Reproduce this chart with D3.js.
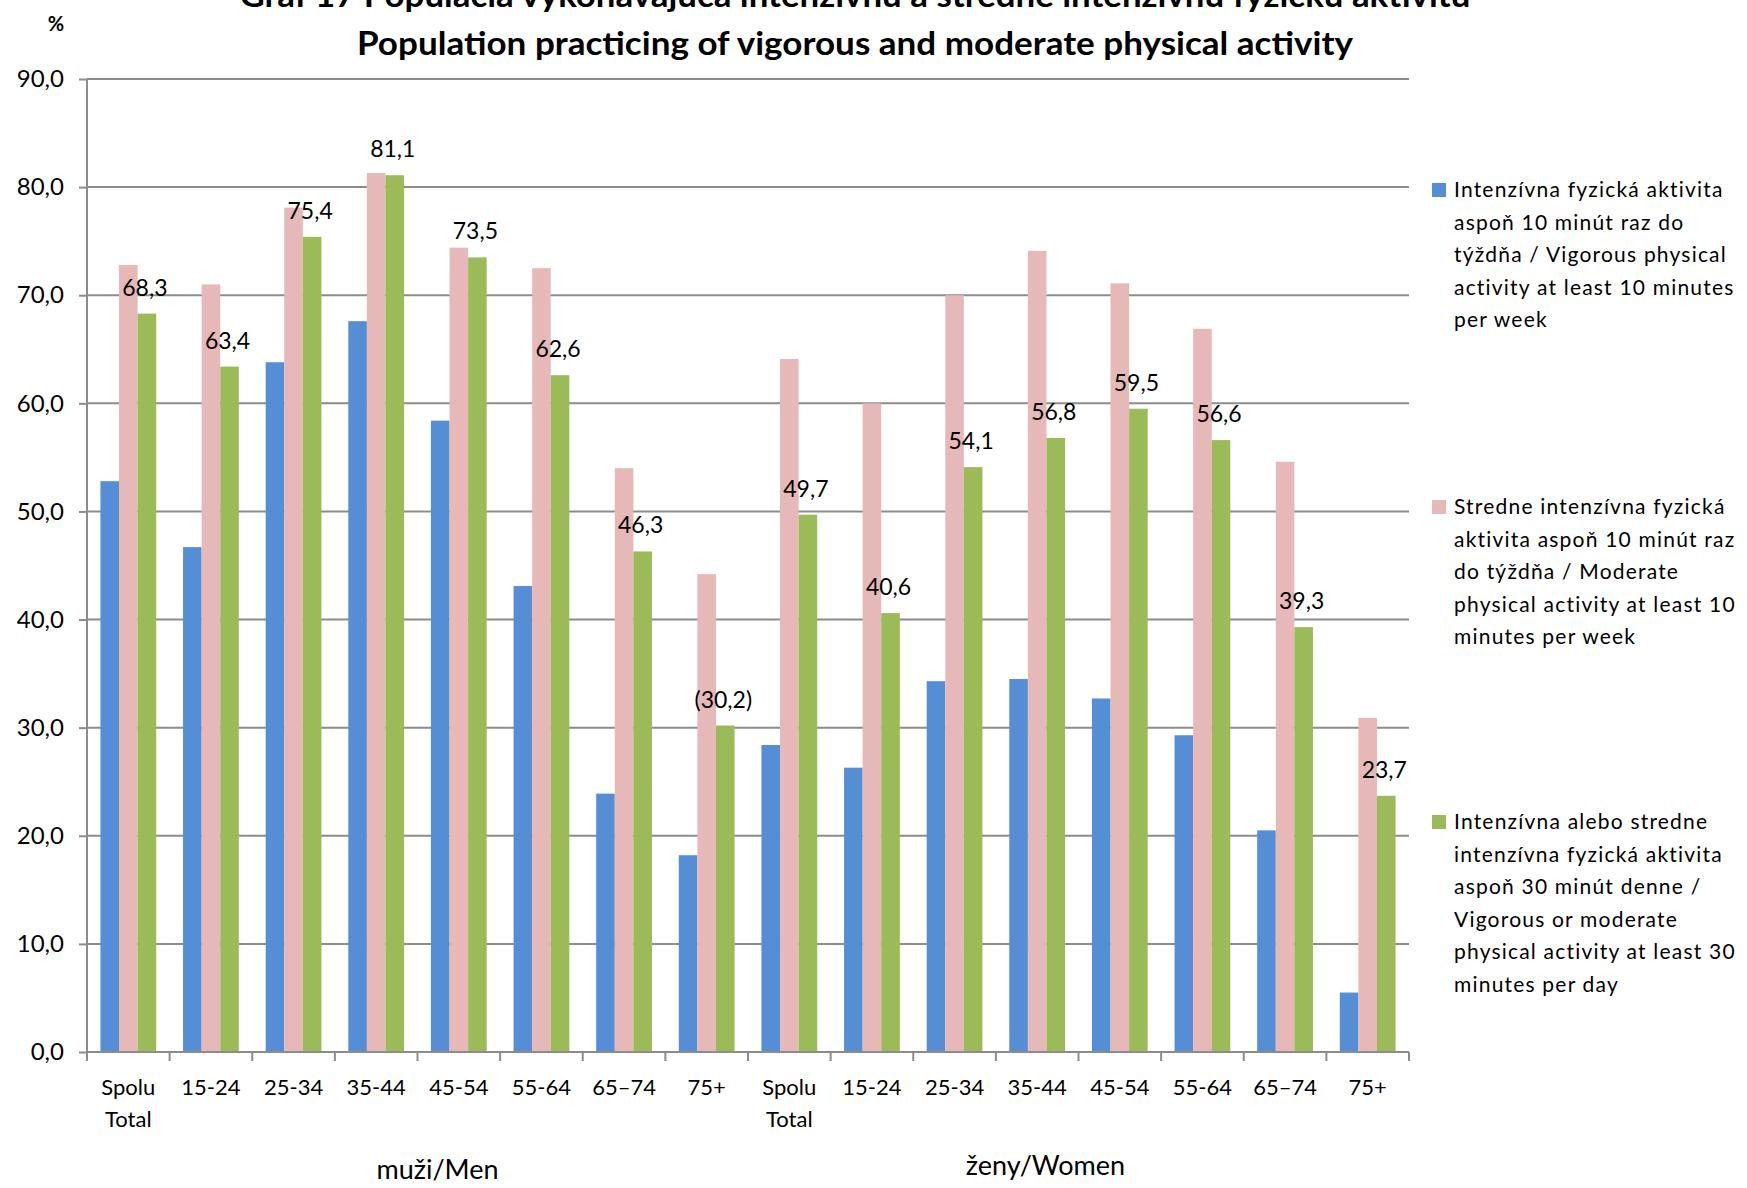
<!DOCTYPE html>
<html lang="sk">
<head>
<meta charset="utf-8">
<title>Graf 17</title>
<script src="https://cdn.jsdelivr.net/npm/d3@7"></script>
<style>
  body { margin: 0; background: #fff; }
  text { font-family: Lato, "Noto Sans", sans-serif; fill: #000; }
  .grid line { stroke: #8c8c8c; stroke-width: 2; }
  .axis path, .axis line { stroke: #8c8c8c; stroke-width: 2; }
</style>
</head>
<body>
<script>
// categories (men 8, women 8)
var categories = ["Spolu|Total", "15-24", "25-34", "35-44", "45-54", "55-64", "65\u201374", "75+",
                  "Spolu|Total", "15-24", "25-34", "35-44", "45-54", "55-64", "65\u201374", "75+"];
var groups = ["mu\u017Ei/Men", "\u017Eeny/Women"];

// series values
var vigorous = [52.8, 46.7, 63.8, 67.6, 58.4, 43.1, 23.9, 18.2,
                28.4, 26.3, 34.3, 34.5, 32.7, 29.3, 20.5, 5.5];
var moderate = [72.8, 71.0, 78.1, 81.3, 74.4, 72.5, 54.0, 44.2,
                64.1, 60.0, 70.0, 74.1, 71.1, 66.9, 54.6, 30.9];
var either   = [68.3, 63.4, 75.4, 81.1, 73.5, 62.6, 46.3, 30.2,
                49.7, 40.6, 54.1, 56.8, 59.5, 56.6, 39.3, 23.7];
var eitherLabels = ["68,3", "63,4", "75,4", "81,1", "73,5", "62,6", "46,3", "(30,2)",
                    "49,7", "40,6", "54,1", "56,8", "59,5", "56,6", "39,3", "23,7"];

var yTicks = [0, 10, 20, 30, 40, 50, 60, 70, 80, 90];

var seriesNames = ["vigorous", "moderate", "either"];
var seriesColors = ["#558ed5", "#e6b9b8", "#9bbb59"];
var legendLines = [
  ["Intenz\u00EDvna fyzick\u00E1 aktivita", "aspo\u0148 10 min\u00FAt raz do", "t\u00FD\u017Ed\u0148a / Vigorous physical", "activity at least 10 minutes", "per week"],
  ["Stredne intenz\u00EDvna fyzick\u00E1", "aktivita aspo\u0148 10 min\u00FAt raz", "do t\u00FD\u017Ed\u0148a / Moderate", "physical activity at least 10", "minutes per week"],
  ["Intenz\u00EDvna alebo stredne", "intenz\u00EDvna fyzick\u00E1 aktivita", "aspo\u0148 30 min\u00FAt denne /", "Vigorous or moderate", "physical activity at least 30", "minutes per day"]
];

var width = 1747, height = 1188;
var plot = { left: 87, right: 1409, top: 79, bottom: 1052 };

var svg = d3.select("body").append("svg")
    .attr("width", width).attr("height", height);

var rows = categories.map(function(c, i) {
  return { i: i, cat: c, vigorous: vigorous[i], moderate: moderate[i], either: either[i] };
});

var x0 = d3.scaleBand()
    .domain(d3.range(categories.length))
    .range([plot.left, plot.right])
    .paddingInner(0.325)
    .paddingOuter(0.1625);

var x1 = d3.scaleBand()
    .domain(seriesNames)
    .range([0, x0.bandwidth()]);

var y = d3.scaleLinear().domain([0, 90]).range([plot.bottom, plot.top]);

var color = d3.scaleOrdinal().domain(seriesNames).range(seriesColors);

// gridlines
svg.append("g").attr("class", "grid")
  .selectAll("line")
  .data(yTicks.filter(function(d) { return d > 0; }))
  .enter().append("line")
    .attr("x1", plot.left).attr("x2", plot.right)
    .attr("y1", function(d) { return y(d); })
    .attr("y2", function(d) { return y(d); });

// bars
svg.append("g")
  .selectAll("g")
  .data(rows)
  .enter().append("g")
    .attr("transform", function(d) { return "translate(" + x0(d.i) + ",0)"; })
  .selectAll("rect")
  .data(function(d) { return seriesNames.map(function(k) { return { key: k, value: d[k] }; }); })
  .enter().append("rect")
    .attr("x", function(d) { return x1(d.key); })
    .attr("width", x1.bandwidth())
    .attr("y", function(d) { return y(d.value); })
    .attr("height", function(d) { return y(0) - y(d.value); })
    .attr("fill", function(d) { return color(d.key); });

// y axis
var yAxis = d3.axisLeft(y)
    .tickValues(yTicks)
    .tickSize(8)
    .tickPadding(15)
    .tickFormat(function(d) { return d.toFixed(1).replace(".", ","); });

var gy = svg.append("g").attr("class", "axis")
    .attr("transform", "translate(" + plot.left + ",0)")
    .call(yAxis);
gy.select(".domain").attr("d", "M0," + plot.top + "V" + plot.bottom);
gy.selectAll("text").style("font-size", "24px").attr("fill", "#000");

// x axis baseline with ticks at band boundaries
var step = x0.step();
var boundaries = d3.range(categories.length + 1).map(function(i) { return plot.left + i * step; });
var gx = svg.append("g").attr("class", "axis");
gx.append("path").attr("d", "M" + plot.left + "," + plot.bottom + "H" + plot.right);
gx.selectAll("line.tk").data(boundaries).enter().append("line")
    .attr("class", "tk")
    .attr("x1", function(d) { return d; }).attr("x2", function(d) { return d; })
    .attr("y1", plot.bottom).attr("y2", plot.bottom + 9);

// category labels
gx.selectAll("text.cat").data(rows).enter().append("text")
    .attr("class", "cat")
    .attr("text-anchor", "middle")
    .style("font-size", "22px")
    .attr("x", function(d) { return x0(d.i) + x0.bandwidth() / 2; })
    .attr("y", 1095)
    .each(function(d) {
      var parts = d.cat.split("|");
      var t = d3.select(this);
      parts.forEach(function(p, j) {
        t.append("tspan")
          .attr("x", x0(d.i) + x0.bandwidth() / 2)
          .attr("dy", j === 0 ? 0 : 32)
          .text(p);
      });
    });

// group labels
svg.append("text").attr("text-anchor", "middle").style("font-size", "27px")
    .attr("x", plot.left + 4 * step + 20).attr("y", 1179).text(groups[0]);
svg.append("text").attr("text-anchor", "middle").style("font-size", "27px")
    .attr("x", plot.left + 12 * step - 33).attr("y", 1175).text(groups[1]);

// data labels on the green series
svg.append("g")
  .selectAll("text")
  .data(rows)
  .enter().append("text")
    .attr("text-anchor", "middle")
    .style("font-size", "23px")
    .attr("x", function(d) { return x0(d.i) + x1("either") + x1.bandwidth() / 2 - 2; })
    .attr("y", function(d) { return y(d.either) - 18; })
    .text(function(d) { return eitherLabels[d.i]; });

// title
svg.append("text").attr("text-anchor", "middle")
    .style("font-size", "32px").style("font-weight", "bold")
    .attr("x", 855).attr("y", 7)
    .attr("textLength", 1231).attr("lengthAdjust", "spacingAndGlyphs")
    .text("Graf 17 Popul\u00E1cia vykon\u00E1vaj\u00FAca intenz\u00EDvnu a stredne intenz\u00EDvnu fyzick\u00FA aktivitu");
svg.append("text").attr("text-anchor", "middle")
    .style("font-size", "32px").style("font-weight", "bold")
    .attr("x", 855).attr("y", 55)
    .attr("textLength", 996).attr("lengthAdjust", "spacingAndGlyphs")
    .text("Population practicing of vigorous and moderate physical activity");

// % unit
svg.append("text").attr("text-anchor", "middle")
    .style("font-size", "20px").style("font-weight", "bold")
    .attr("x", 56).attr("y", 31).text("%");

// legend
var legendTop = [190, 507, 822];
var lg = svg.append("g");
legendLines.forEach(function(lines, k) {
  lg.append("rect")
    .attr("x", 1432).attr("y", legendTop[k] - 7)
    .attr("width", 14).attr("height", 14)
    .attr("fill", seriesColors[k]);
  var t = lg.append("text")
    .style("font-size", "21px")
    .style("letter-spacing", "1.2px")
    .attr("x", 1454).attr("y", legendTop[k] + 7);
  lines.forEach(function(line, j) {
    t.append("tspan").attr("x", 1454).attr("dy", j === 0 ? 0 : 32.6).text(line);
  });
});
</script>
</body>
</html>
